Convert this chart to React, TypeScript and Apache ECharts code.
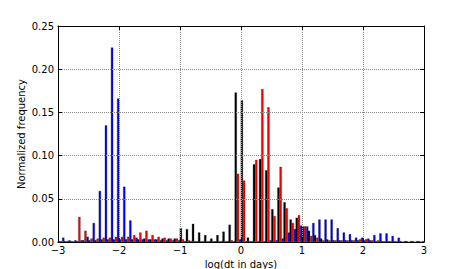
import React, { useEffect, useRef } from "react";
import * as echarts from "echarts";

const binStarts: number[] = Array.from({ length: 60 }, (_, i) => Math.round((-3 + i * 0.1) * 10) / 10);
const binWidth = 0.1;

const blackVals = [
  0.001, 0.001, 0.001, 0.001, 0.002, 0.002, 0.002, 0.003, 0.003, 0.003,
  0.003, 0.003, 0.003, 0.003, 0.004, 0.003, 0.003, 0.004, 0.004, 0.004,
  0.016, 0.015, 0.021, 0.011, 0.008, 0.004, 0.008, 0.012, 0.020, 0.173,
  0.164, 0.005, 0.090, 0.096, 0.083, 0.038, 0.063, 0.046, 0.026, 0.028,
  0.018, 0.013, 0.008, 0.004, 0.003, 0.002, 0.002, 0.002, 0.002, 0.002,
  0.002, 0.002, 0.001, 0.001, 0.001, 0.001, 0.001, 0.001, 0.001, 0.001,
];
const redVals = [
  0.001, 0.001, 0.001, 0.029, 0.013, 0.004, 0.004, 0.005, 0.005, 0.006,
  0.006, 0.006, 0.008, 0.011, 0.013, 0.008, 0.006, 0.005, 0.004, 0.004,
  0.003, 0.002, 0.001, 0.001, 0.001, 0.001, 0.001, 0.001, 0.002, 0.079,
  0.071, 0.001, 0.095, 0.177, 0.156, 0.030, 0.087, 0.039, 0.022, 0.031,
  0.018, 0.007, 0.005, 0.002, 0.002, 0.002, 0.002, 0.002, 0.002, 0.003,
  0.003, 0.002, 0.002, 0.001, 0.001, 0.001, 0, 0, 0, 0,
];
const blueVals = [
  0.005, 0.002, 0.002, 0.002, 0.006, 0.022, 0.059, 0.135, 0.225, 0.166,
  0.064, 0.025, 0.005, 0.003, 0.003, 0.003, 0.002, 0.002, 0.002, 0.002,
  0.001, 0.001, 0.001, 0.001, 0.001, 0.001, 0.001, 0.001, 0.001, 0.003,
  0.001, 0.001, 0.001, 0.001, 0.002, 0.002, 0.004, 0.011, 0.015, 0.019,
  0.018, 0.022, 0.026, 0.026, 0.026, 0.016, 0.011, 0.009, 0.005, 0.005,
  0.004, 0.008, 0.010, 0.010, 0.007, 0.005, 0.001, 0.001, 0.001, 0.001,
];

const xTickMin = -3;
const xTickMax = 3;
const yTickMax = 0.25;
const yTickStep = 0.05;
const xName = "log(dt in days)";
const yName = "Normalized frequency";

const FONT = "DejaVu Sans";

export default function App() {
  const ref = useRef<HTMLDivElement>(null);
  useEffect(() => {
    document.body.style.margin = "0";
    if (!ref.current) return;
    const chart = echarts.init(ref.current, undefined, { renderer: "svg", width: 471, height: 269 });
    const fmtMinus = (v: number) => String(v).replace("-", "\u2212");
    const grid = {
      type: "dotted" as const,
      color: "#8a8a8a",
      width: 1,
    };
    const toPairs = (vals: number[]) =>
      vals.map((v, i) => [Math.round((binStarts[i] + binWidth / 2) * 100) / 100, v]);
    const barSeries = (vals: number[], c: string) => ({
      type: "bar",
      xAxisIndex: 0,
      yAxisIndex: 0,
      data: toPairs(vals),
      barGap: "0%",
      barWidth: 2.2,
      itemStyle: { color: c, borderColor: "#111", borderWidth: 0.3 },
    });
    chart.setOption({
      animation: false,
      backgroundColor: "#fff",
      grid: {
        left: 58,
        right: 47,
        top: 26,
        bottom: 27,
        containLabel: false,
        outerBoundsMode: "none",
      },
      xAxis: [
        {
          type: "value",
          position: "bottom",
          min: xTickMin,
          max: xTickMax,
          interval: 1,
          axisLine: { show: true, onZero: false, lineStyle: { color: "#000", width: 1 } },
          axisTick: { show: true, inside: true, length: 4, lineStyle: { color: "#000" } },
          axisLabel: {
            formatter: fmtMinus,
            color: "#000",
            fontFamily: FONT,
            fontSize: 10,
            margin: 3,
          },
          splitLine: { show: true, lineStyle: grid },
          name: xName,
          nameLocation: "middle",
          nameGap: 15,
          nameTextStyle: { color: "#000", fontFamily: FONT, fontSize: 10 },
          z: 10,
        },
        {
          type: "value",
          position: "top",
          min: xTickMin,
          max: xTickMax,
          interval: 1,
          axisLine: { show: true, onZero: false, lineStyle: { color: "#000", width: 1 } },
          axisTick: { show: true, inside: true, length: 4, lineStyle: { color: "#000" } },
          axisLabel: { show: false },
          splitLine: { show: false },
          z: 10,
        },
      ],
      yAxis: [
        {
          type: "value",
          position: "left",
          min: 0,
          max: yTickMax,
          interval: yTickStep,
          axisLine: { show: true, onZero: false, lineStyle: { color: "#000", width: 1 } },
          axisTick: { show: true, inside: true, length: 4, lineStyle: { color: "#000" } },
          axisLabel: {
            formatter: (v: number) => v.toFixed(2),
            color: "#000",
            fontFamily: FONT,
            fontSize: 10,
            margin: 4,
          },
          splitLine: { show: true, lineStyle: grid },
          name: yName,
          nameLocation: "middle",
          nameGap: 32,
          nameRotate: 90,
          nameMoveOverlap: false,
          nameTextStyle: { color: "#000", fontFamily: FONT, fontSize: 10 },
          z: 10,
        },
        {
          type: "value",
          position: "right",
          min: 0,
          max: yTickMax,
          interval: yTickStep,
          axisLine: { show: true, onZero: false, lineStyle: { color: "#000", width: 1 } },
          axisTick: { show: true, inside: true, length: 4, lineStyle: { color: "#000" } },
          axisLabel: { show: false },
          splitLine: { show: false },
          z: 10,
        },
      ],
      series: [
        barSeries(blackVals, "#000000"),
        barSeries(redVals, "#ff0000"),
        barSeries(blueVals, "#0000ff"),
      ],
    });
    return () => chart.dispose();
  }, []);
  return <div ref={ref} style={{ width: 471, height: 269 }} />;
}
